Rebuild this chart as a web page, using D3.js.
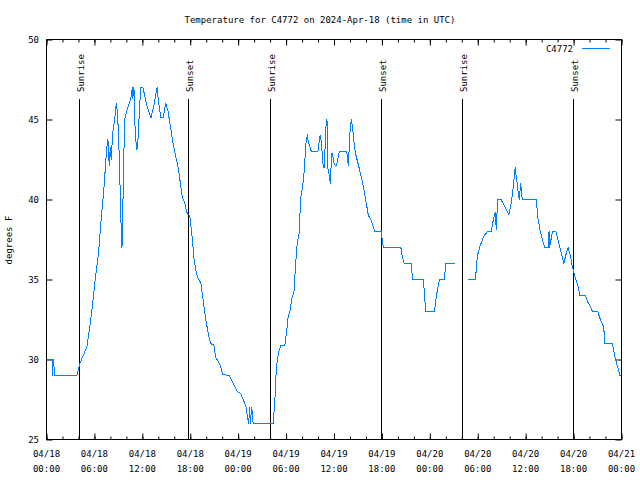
<!DOCTYPE html>
<html><head><meta charset="utf-8">
<script src="https://cdn.jsdelivr.net/npm/d3@7"></script>
<style>
body{margin:0;background:#fff;}
svg text{font-family:"DejaVu Sans Mono","Liberation Mono",monospace;font-size:9px;fill:#000;}
</style></head>
<body><svg id="c" width="640" height="480"></svg>
<script>
// hours since 2024-04-18 00:00 UTC
const hours = [0,0.7,0.75,0.85,0.95,1.05,3.8,4.05,4.22,4.64,5.06,5.27,5.69,6.1,6.52,6.82,7.15,7.44,7.56,7.69,7.86,7.99,8.1,8.28,8.53,8.74,8.9,9.16,9.24,9.37,9.45,9.5,9.66,9.78,10.08,10.37,10.58,10.75,10.8,10.95,11.04,11.2,11.33,11.45,11.62,11.79,12.08,12.5,13.08,13.5,13.84,14.05,14.34,14.59,14.93,15.22,15.51,15.85,16.18,16.52,16.77,17.02,17.31,17.52,17.65,17.94,18.23,18.48,18.77,19.02,19.32,19.6,19.94,20.23,20.53,20.95,21.2,21.49,21.79,22.04,22.9,23.37,23.87,24.3,24.63,24.96,25.13,25.3,25.46,25.5,25.7,25.88,28.39,28.6,28.73,28.9,29.14,29.35,29.85,30.06,30.27,30.48,30.69,30.98,31.2,31.4,31.65,31.74,31.86,32.07,32.24,32.36,32.49,32.66,32.78,33.16,33.99,34.25,34.45,34.58,34.75,34.91,35,35.12,35.25,35.41,35.54,35.71,35.8,36,36.17,36.3,36.55,36.67,37.6,37.8,37.93,38.05,38.18,38.3,38.47,38.68,38.93,39.18,39.43,39.68,39.89,40.1,40.3,40.6,40.85,41.14,41.9,42.19,44.37,44.53,44.78,45.7,45.82,47.2,47.33,47.5,48.58,48.83,49.21,49.8,50.01,51.1,51.9,52.72,53.73,53.85,54.02,54.23,54.44,54.73,55.07,55.23,55.7,55.9,56.07,56.2,56.32,56.49,56.91,57.45,57.9,58.2,58.45,58.62,58.7,58.8,59,59.1,59.2,59.37,59.45,59.58,61.34,61.5,61.84,62.13,62.38,62.8,62.93,63,63.35,63.77,64.14,64.44,64.77,65.02,65.31,65.6,65.85,66.1,66.36,66.6,66.77,67.49,67.77,68.11,68.36,69.03,69.28,69.58,69.79,69.87,70.87,71.04,71.25,71.54,71.79,71.9];
const temps = [30,30,29,30,29.5,29,29,29.5,29.8,30.3,30.8,31.5,33.1,35,36.7,38.6,40.4,42.5,43.3,43.75,42.1,43.3,42.5,44.1,45,46,45.4,42.1,40,37.9,37,37.9,42.1,45,45.6,46,46.4,47,46.3,47,45,43.6,43.1,43.7,45.4,47,47,46,45.1,46,47,46,45.1,45.1,46,45.5,44.6,43.5,42.7,41.9,41,40.1,39.8,39.3,39.1,39,37.7,36.25,35.4,35,34.8,33.75,32.5,31.7,31,30.9,30.1,29.9,29.6,29.06,29,28.5,28,27.9,27.5,27.1,26.5,26,27,26,27,26,26,27.5,29,30,30.6,30.9,30.9,31.7,32.7,33,33.75,34.2,36,37.3,37.9,39.1,40.2,40.8,41.6,42.5,43.5,44.06,43.6,43,43,44,43.5,42.3,42,43.5,44.6,45,41.9,41.5,41,42.9,42.9,42.3,42.1,42.1,42.7,43,43,42.1,43.5,44.6,45,44.6,43.75,42.9,42.4,41.9,41.4,40.8,40.2,39.6,39,38.75,38.4,38,38,37,37,36.5,36,36,35,35,34,33,33,34,35,35,36,36,null,35,35,36,36.6,37,37.3,37.7,37.9,38,38,38.6,39,39.2,38.1,40,40,39.5,39.06,39.8,40.8,41.7,42,41.5,40.8,40.2,40,41,40.6,40,40,38.9,38,37.4,37,37,38,37,38,38,37.3,36.7,36,36.5,37,36.5,35.8,35.3,34.9,34.5,34,34,33.6,33.3,33,33,32.6,32.25,32,31,31,30.5,30,29.5,29,29];
const sunEventHours = [4.05,17.75,28.02,41.85,51.98,65.93];
const sunEventLabels = ["Sunrise","Sunset","Sunrise","Sunset","Sunrise","Sunset"];
const yTicks = [25,30,35,40,45,50];
const majorTickHours = [0,6,12,18,24,30,36,42,48,54,60,66,72];
const minorTickHours = d3.range(0,73,2);
const seriesName = "C4772";
const titleText = "Temperature for C4772 on 2024-Apr-18 (time in UTC)";
const yLabel = "degrees F";

const t0 = Date.UTC(2024,3,18,0,0);
const toDate = h => new Date(t0 + h*3600000);
const svg = d3.select("#c");
const L=46.5,R=621.5,T=39.5,B=439.5;
const x = d3.scaleUtc().domain([toDate(0),toDate(72)]).range([L,R]);
const y = d3.scaleLinear().domain([25,50]).range([B,T]);

// frame
svg.append("rect").attr("x",L).attr("y",T).attr("width",R-L).attr("height",B-T)
  .attr("fill","none").attr("stroke","#000").attr("stroke-width",1);

const fD = d3.utcFormat("%m/%d"), fT = d3.utcFormat("%H:%M");
function styleAxis(g){ g.select(".domain").remove(); g.selectAll("line").attr("stroke","#000"); }
svg.append("g").attr("transform",`translate(0,${B})`)
  .call(d3.axisBottom(x).tickValues(majorTickHours.map(toDate)).tickSize(-6).tickFormat("")).call(styleAxis);
svg.append("g").attr("transform",`translate(0,${B})`)
  .call(d3.axisBottom(x).tickValues(minorTickHours.map(toDate)).tickSize(-3).tickFormat("")).call(styleAxis);
svg.append("g").attr("transform",`translate(0,${T})`)
  .call(d3.axisTop(x).tickValues(majorTickHours.map(toDate)).tickSize(-6).tickFormat("")).call(styleAxis);
svg.append("g").attr("transform",`translate(0,${T})`)
  .call(d3.axisTop(x).tickValues(minorTickHours.map(toDate)).tickSize(-3).tickFormat("")).call(styleAxis);
svg.append("g").attr("transform",`translate(${L},0)`)
  .call(d3.axisLeft(y).tickValues(yTicks).tickSize(-6).tickFormat("")).call(styleAxis);
svg.append("g").attr("transform",`translate(${R},0)`)
  .call(d3.axisRight(y).tickValues(yTicks).tickSize(-6).tickFormat("")).call(styleAxis);

// x labels
const xl = svg.append("g");
majorTickHours.forEach(h=>{
  const d = toDate(h), t = xl.append("text").attr("text-anchor","middle");
  t.append("tspan").attr("x",x(d)).attr("y",457).text(fD(d));
  t.append("tspan").attr("x",x(d)).attr("y",472).text(fT(d));
});
// y labels
svg.append("g").selectAll("text").data(yTicks).join("text")
  .attr("x",39).attr("y",d=>y(d)+3.5).attr("text-anchor","end").text(d=>d);

// sunrise/sunset
sunEventHours.forEach((h,i)=>{
  const xx = Math.round(x(toDate(h)))+0.5;
  svg.append("line").attr("x1",xx).attr("x2",xx).attr("y1",99).attr("y2",B).attr("stroke","#000");
  svg.append("text").attr("transform",`translate(${xx+4.5},92) rotate(-90)`).text(sunEventLabels[i]);
});

// series
const data = hours.map((h,i)=>({d:toDate(h),t:temps[i]}));
const line = d3.line().defined(p=>p.t!=null).x(p=>x(p.d)).y(p=>y(p.t));
svg.append("path").datum(data).attr("d",line).attr("fill","none").attr("stroke","#0080ff")
  .attr("stroke-width",1).attr("shape-rendering","crispEdges");

// title, y label, legend
svg.append("text").attr("x",320).attr("y",23).attr("text-anchor","middle").text(titleText);
svg.append("text").attr("transform","translate(12,240) rotate(-90)").attr("text-anchor","middle").text(yLabel);
svg.append("text").attr("x",573).attr("y",52).attr("text-anchor","end").text(seriesName);
svg.append("line").attr("x1",582).attr("x2",610).attr("y1",48.5).attr("y2",48.5).attr("stroke","#0080ff");
</script></body></html>
